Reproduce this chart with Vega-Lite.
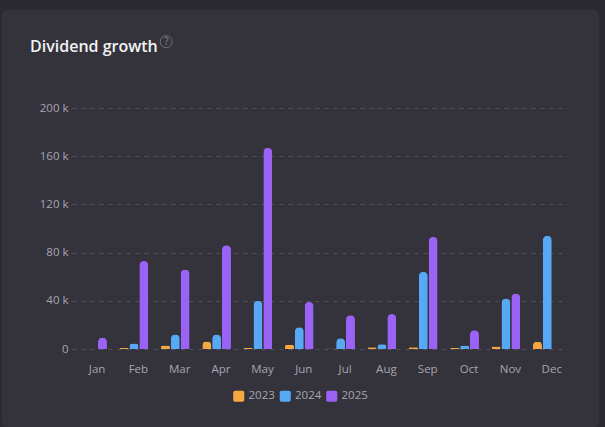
{
  "$schema": "https://vega.github.io/schema/vega-lite/v6.json",
  "width": 597,
  "height": 417,
  "autosize": "none",
  "padding": {"left": 2, "top": 10, "right": 6, "bottom": 0},
  "background": "#2b2a32",
  "view": {"fill": "#34333c", "cornerRadius": 6, "stroke": null},
  "config": {"font": "Open Sans"},
  "title": {
    "text": "Dividend growth",
    "anchor": "start",
    "frame": "group",
    "dx": 28,
    "offset": -45,
    "fontSize": 16,
    "fontWeight": 600,
    "color": "#f2f2f5",
    "font": "Open Sans"
  },
  "datasets": {
    "dividends": [
      {"month": "Jan", "year": "2025", "value": 9500},
      {"month": "Feb", "year": "2023", "value": 800},
      {"month": "Feb", "year": "2024", "value": 4500},
      {"month": "Feb", "year": "2025", "value": 73000},
      {"month": "Mar", "year": "2023", "value": 3000},
      {"month": "Mar", "year": "2024", "value": 12000},
      {"month": "Mar", "year": "2025", "value": 66000},
      {"month": "Apr", "year": "2023", "value": 6300},
      {"month": "Apr", "year": "2024", "value": 12000},
      {"month": "Apr", "year": "2025", "value": 86000},
      {"month": "May", "year": "2023", "value": 1000},
      {"month": "May", "year": "2024", "value": 40000},
      {"month": "May", "year": "2025", "value": 167000},
      {"month": "Jun", "year": "2023", "value": 3500},
      {"month": "Jun", "year": "2024", "value": 18000},
      {"month": "Jun", "year": "2025", "value": 39000},
      {"month": "Jul", "year": "2023", "value": 400},
      {"month": "Jul", "year": "2024", "value": 9000},
      {"month": "Jul", "year": "2025", "value": 28000},
      {"month": "Aug", "year": "2023", "value": 1500},
      {"month": "Aug", "year": "2024", "value": 4000},
      {"month": "Aug", "year": "2025", "value": 29000},
      {"month": "Sep", "year": "2023", "value": 1500},
      {"month": "Sep", "year": "2024", "value": 64000},
      {"month": "Sep", "year": "2025", "value": 93000},
      {"month": "Oct", "year": "2023", "value": 800},
      {"month": "Oct", "year": "2024", "value": 3000},
      {"month": "Oct", "year": "2025", "value": 15500},
      {"month": "Nov", "year": "2023", "value": 2000},
      {"month": "Nov", "year": "2024", "value": 42000},
      {"month": "Nov", "year": "2025", "value": 46000},
      {"month": "Dec", "year": "2023", "value": 6000},
      {"month": "Dec", "year": "2024", "value": 94000}
    ],
    "help": [{"month": "Mar", "value": 255000, "label": "?"}]
  },
  "encoding": {
    "x": {
      "field": "month",
      "type": "nominal",
      "sort": ["Jan", "Feb", "Mar", "Apr", "May", "Jun", "Jul", "Aug", "Sep", "Oct", "Nov", "Dec"],
      "scale": {"range": [70, 566], "paddingInner": 0, "paddingOuter": 0},
      "axis": {
        "title": null,
        "domain": false,
        "ticks": false,
        "labelAngle": 0,
        "labelOffset": 4.4,
        "labelPadding": 0,
        "offset": -64,
        "labelFontSize": 11.5,
        "labelColor": "#a5a5ae",
        "labelFont": "Open Sans"
      }
    },
    "y": {
      "field": "value",
      "type": "quantitative",
      "scale": {"domain": [0, 200000], "range": [339, 98]},
      "axis": {
        "title": null,
        "values": [0, 40000, 80000, 120000, 160000, 200000],
        "labelExpr": "datum.value === 0 ? '0' : datum.value / 1000 + ' k'",
        "domain": false,
        "ticks": false,
        "offset": -72,
        "labelPadding": 6,
        "labelFontSize": 11.5,
        "labelColor": "#a5a5ae",
        "labelFont": "Open Sans",
        "grid": true,
        "gridColor": "#52515b",
        "gridDash": [4, 5],
        "gridWidth": 1
      }
    }
  },
  "layer": [
    {
      "data": {"name": "dividends"},
      "mark": {"type": "bar", "width": 9, "cornerRadiusTopLeft": 4.5, "cornerRadiusTopRight": 4.5},
      "encoding": {
        "xOffset": {
          "field": "year",
          "type": "nominal",
          "scale": {"range": [5.9, 35.4], "paddingInner": 0, "paddingOuter": 0}
        },
        "color": {
          "field": "year",
          "type": "nominal",
          "scale": {"domain": ["2023", "2024", "2025"], "range": ["#f5a742", "#57a8f5", "#9b63f5"]},
          "legend": {
            "title": null,
            "orient": "none",
            "legendX": 231,
            "legendY": 380,
            "direction": "horizontal",
            "columns": 3,
            "symbolType": "M-1,-0.7 A0.3,0.3 0 0 1 -0.7,-1 L0.7,-1 A0.3,0.3 0 0 1 1,-0.7 L1,0.7 A0.3,0.3 0 0 1 0.7,1 L-0.7,1 A0.3,0.3 0 0 1 -1,0.7 Z",
            "symbolSize": 121,
            "symbolStrokeWidth": 0,
            "labelFontSize": 11.5,
            "labelColor": "#a5a5ae",
            "labelFont": "Open Sans",
            "columnPadding": 4.5
          }
        }
      }
    },
    {
      "data": {"name": "help"},
      "mark": {"type": "point", "shape": "circle", "size": 144, "filled": false, "stroke": "#8a8a93", "strokeWidth": 1},
      "encoding": {"xOffset": {"value": 11.5}}
    },
    {
      "data": {"name": "help"},
      "mark": {"type": "text", "fontSize": 10, "color": "#8a8a93", "dx": -9, "baseline": "middle", "font": "Open Sans"},
      "encoding": {"text": {"field": "label"}}
    }
  ]
}
